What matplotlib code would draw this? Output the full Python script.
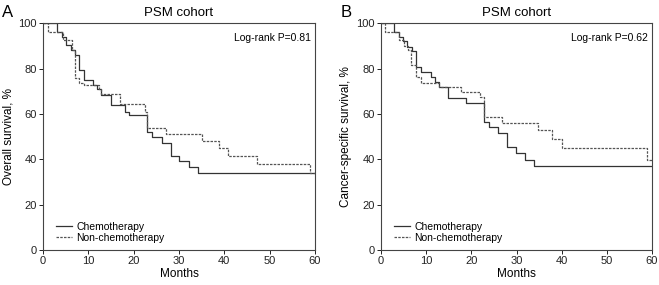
import matplotlib
matplotlib.use("Agg")
import matplotlib.pyplot as plt

plt.rcParams['font.family'] = ['Liberation Sans', 'DejaVu Sans']

# Panel A - overall survival (months, survival %)
os_chemo_t = [0, 3.0, 4.1, 5.1, 6.1, 7.1, 8.0, 9.0, 11.1, 12.0, 12.9, 15.1, 18.1, 19.0,
              23.0, 24.1, 26.2, 28.2, 30.1, 32.2, 34.1, 60]
os_chemo_s = [100, 96.2, 94, 90.3, 88, 86, 79.3, 74.9, 72.7, 70.9, 68.3, 63.9, 60.9, 59.5,
              52.1, 49.6, 47, 41.5, 39.2, 36.4, 33.8, 33.8]
os_non_t = [0, 1.0, 4.5, 6.3, 7.1, 8.0, 9.0, 12.3, 12.9, 17.0, 22.5, 23.0, 27.1, 35.1,
            38.9, 40.9, 47.1, 59.0, 60]
os_non_s = [100, 96.2, 92.5, 88, 75.6, 73.4, 72.7, 70.9, 68.6, 64.2, 61, 53.6, 51.1, 48.2,
            44.8, 41.4, 37.9, 33.8, 33.8]

# Panel B - cancer-specific survival
css_chemo_t = [0, 2.8, 3.9, 4.9, 5.8, 6.9, 7.8, 8.9, 11.0, 11.9, 12.8, 14.8, 18.9, 22.8,
               23.9, 26.0, 28.0, 29.9, 31.9, 33.9, 60]
css_chemo_s = [100, 96.2, 94, 92, 89.6, 87.7, 80.8, 78.6, 76.4, 74.2, 72, 67.1, 64.6, 56.5,
               54, 51.4, 45.2, 42.9, 39.6, 37.0, 37.0]
css_non_t = [0, 0.8, 4.0, 5.0, 6.0, 6.7, 7.8, 8.9, 12.8, 17.8, 21.9, 22.9, 26.9, 34.8,
             37.9, 40.0, 59.0, 60]
css_non_s = [100, 96.2, 92.5, 90, 88, 81.5, 76.4, 73.5, 72, 69.7, 67.5, 58.7, 55.8, 52.9,
             48.8, 44.8, 39.6, 39.6]

panels = [
    ("A", "Overall survival, %", "Log-rank P=0.81",
     os_chemo_t, os_chemo_s, os_non_t, os_non_s, [43 / 659, 0.1228, 272 / 659, 0.796]),
    ("B", "Cancer-specific survival, %", "Log-rank P=0.62",
     css_chemo_t, css_chemo_s, css_non_t, css_non_s, [381 / 659, 0.1228, 271 / 659, 0.796]),
]

fig = plt.figure(figsize=(6.59, 2.85), dpi=100)

for letter, ylab, ptext, ct, cs, nt, ns, rect in panels:
    ax = fig.add_axes(rect)
    ax.step(ct, cs, where='post', color='#333333', lw=0.9, label='Chemotherapy')
    ax.step(nt, ns, where='post', color='#555555', lw=0.9, linestyle=(0, (2, 1)),
            label='Non-chemotherapy')
    ax.set_xlim(0, 60)
    ax.set_ylim(0, 100)
    ax.set_xticks(range(0, 61, 10))
    ax.set_yticks(range(0, 101, 20))
    ax.tick_params(labelsize=8, length=3, width=0.7, pad=1.5, colors='#222222')
    for sp in ax.spines.values():
        sp.set_linewidth(0.8)
        sp.set_color('#444444')
    ax.set_xlabel("Months", fontsize=8.5, labelpad=1)
    ax.set_ylabel(ylab, fontsize=8.5, labelpad=3)
    ax.set_title("PSM cohort", fontsize=9.5, pad=5)
    ax.text(0.985, 0.955, ptext, transform=ax.transAxes, ha='right', va='top', fontsize=7.5)
    ax.legend(loc='lower left', frameon=False, fontsize=7.5, handlelength=1.6,
              handletextpad=0.4, labelspacing=0.1, borderaxespad=0.3,
              bbox_to_anchor=(0.02, 0.0))
    fig.text(rect[0] - 35 / 659, 0.955, letter, fontsize=12, ha='center', va='center')

fig.savefig("out.png", dpi=100)
